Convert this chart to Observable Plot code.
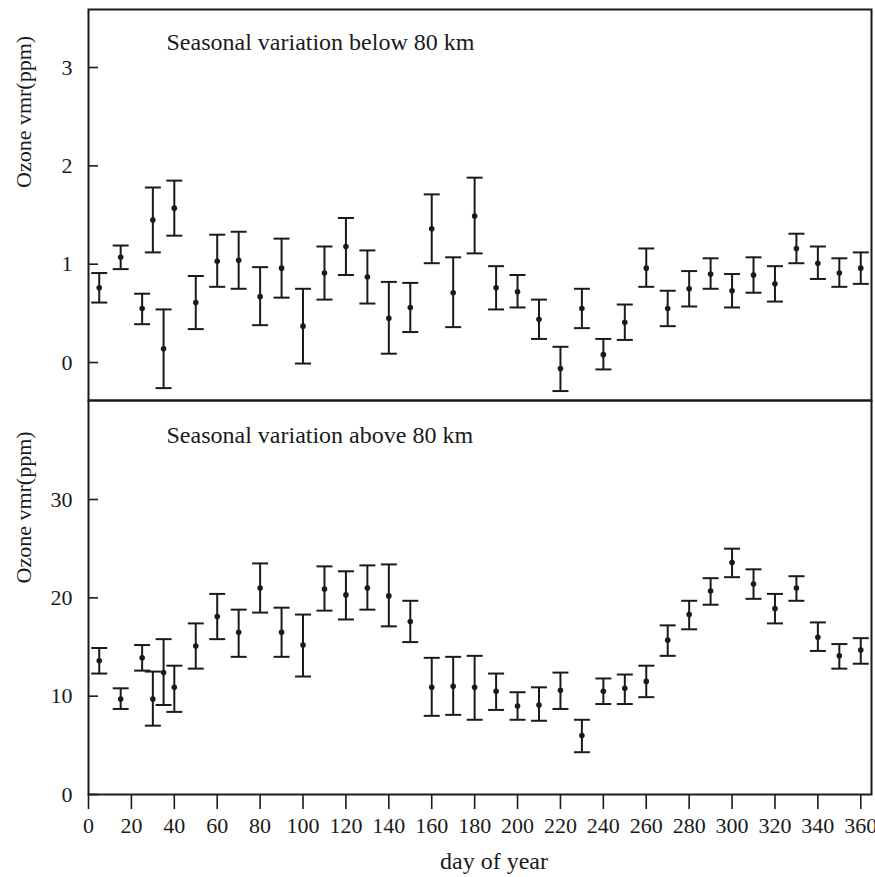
<!DOCTYPE html>
<html>
<head>
<meta charset="utf-8">
<script src="https://cdn.jsdelivr.net/npm/d3@7"></script>
<script src="https://cdn.jsdelivr.net/npm/@observablehq/plot@0.6"></script>
<style>
  html, body { margin: 0; padding: 0; background: white; }
  #chart { width: 875px; }
  #chart svg { display: block; }
</style>
</head>
<body>
<div id="chart"></div>
<script>
// ---- data ----
const days = [5,15,25,30,35,40,50,60,70,80,90,100,110,120,130,140,150,160,170,180,190,200,210,220,230,240,250,260,270,280,290,300,310,320,330,340,350,360];

const belowMean = [0.76,1.07,0.55,1.45,0.14,1.57,0.61,1.03,1.04,0.67,0.96,0.37,0.91,1.18,0.87,0.45,0.56,1.36,0.71,1.49,0.76,0.72,0.44,-0.06,0.55,0.08,0.41,0.96,0.55,0.75,0.90,0.73,0.89,0.80,1.16,1.01,0.91,0.96];
const belowLow  = [0.61,0.95,0.39,1.12,-0.26,1.29,0.34,0.77,0.75,0.38,0.66,-0.01,0.64,0.89,0.60,0.09,0.31,1.01,0.36,1.11,0.54,0.56,0.24,-0.29,0.35,-0.07,0.23,0.77,0.37,0.57,0.75,0.56,0.71,0.62,1.01,0.85,0.77,0.80];
const belowHigh = [0.91,1.19,0.70,1.78,0.54,1.85,0.88,1.30,1.33,0.97,1.26,0.75,1.18,1.47,1.14,0.82,0.81,1.71,1.07,1.88,0.98,0.89,0.64,0.16,0.75,0.24,0.59,1.16,0.73,0.93,1.06,0.90,1.07,0.98,1.31,1.18,1.06,1.12];

const aboveMean = [13.6,9.7,13.9,9.7,12.4,10.9,15.1,18.1,16.5,21.0,16.5,15.2,20.9,20.3,21.0,20.2,17.6,10.9,11.0,10.9,10.5,9.0,9.1,10.6,6.0,10.5,10.8,11.5,15.7,18.3,20.7,23.6,21.4,18.9,21.0,16.0,14.1,14.7];
const aboveLow  = [12.3,8.7,12.6,7.0,9.1,8.4,12.8,15.8,14.0,18.5,14.0,12.0,18.7,17.8,18.8,17.1,15.5,8.0,8.1,7.6,8.6,7.6,7.5,8.7,4.3,9.2,9.2,9.9,14.1,16.8,19.3,22.1,19.9,17.4,19.7,14.6,12.8,13.3];
const aboveHigh = [14.9,10.8,15.2,12.5,15.8,13.1,17.4,20.4,18.8,23.5,19.0,18.3,23.2,22.7,23.3,23.4,19.7,13.9,14.0,14.1,12.3,10.4,10.9,12.4,7.6,11.8,12.2,13.1,17.2,19.7,22.0,25.0,22.9,20.4,22.2,17.5,15.3,15.9];

const xTicks = [0,20,40,60,80,100,120,140,160,180,200,220,240,260,280,300,320,340,360];
const yTicksBelow = [0,1,2,3];
const yTicksAbove = [0,10,20,30];

const titleBelow = "Seasonal variation below 80 km";
const titleAbove = "Seasonal variation above 80 km";
const yLabel = "Ozone vmr(ppm)";
const xLabel = "day of year";

// ---- build tables ----
const rowsBelow = days.map((d, i) => ({day: d, mean: belowMean[i], low: belowLow[i], high: belowHigh[i]}));
const rowsAbove = days.map((d, i) => ({day: d, mean: aboveMean[i], low: aboveLow[i], high: aboveHigh[i]}));

const ink = "#1a1a1a";
const font = "'Liberation Serif', 'Times New Roman', serif";
const fmt = d => String(d);

const W = 875, ML = 88, MR = 4;
const innerTickLen = 10;

// horizontal cap symbol for error bars
const capSymbol = {
  draw(context, size) {
    const h = Math.sqrt(size / Math.PI);
    context.moveTo(-h, 0);
    context.lineTo(h, 0);
  }
};

function errMarks(rows) {
  return [
    Plot.ruleX(rows, {x: "day", y1: "low", y2: "high", stroke: ink, strokeWidth: 2}),
    Plot.dot(rows, {x: "day", y: "low", symbol: capSymbol, r: 8, stroke: ink, strokeWidth: 2, fill: "none"}),
    Plot.dot(rows, {x: "day", y: "high", symbol: capSymbol, r: 8, stroke: ink, strokeWidth: 2, fill: "none"}),
    Plot.dot(rows, {x: "day", y: "mean", r: 2.8, fill: ink, stroke: "none"})
  ];
}

// y axis: labels outside, short ticks pointing inward
function yAxisMarks(ticks) {
  return [
    Plot.axisY({ticks, tickFormat: fmt, tickSize: 0, tickPadding: 16, label: null, fontSize: 22}),
    Plot.tickY(ticks, {y: d => d, stroke: ink, strokeWidth: 1.6, insetRight: (W - ML - MR) - innerTickLen})
  ];
}

const common = {
  width: W,
  marginLeft: ML,
  marginRight: MR,
  style: {fontFamily: font, fontSize: "22px", color: ink, background: "white", overflow: "visible"}
};

const plotBelow = Plot.plot({
  ...common,
  height: 400,
  marginTop: 9,
  marginBottom: 0,
  x: {domain: [0, 365], axis: null},
  y: {domain: [-0.386, 3.59]},
  marks: [
    ...yAxisMarks(yTicksBelow),
    ...errMarks(rowsBelow),
    Plot.text([titleBelow], {text: d => d, frameAnchor: "top-left", textAnchor: "start", lineAnchor: "top", dx: 78, dy: 23, fontSize: 24, fill: ink}),
    Plot.text([yLabel], {text: d => d, frameAnchor: "left", rotate: -90, dx: -65, dy: -17, fontSize: 22, fill: ink}),
    Plot.frame({stroke: ink, strokeWidth: 2})
  ]
});

const plotAbove = Plot.plot({
  ...common,
  height: 477,
  marginTop: 0,
  marginBottom: 83,
  x: {domain: [0, 365]},
  y: {domain: [0, 40.07]},
  marks: [
    Plot.axisX({ticks: xTicks, tickFormat: fmt, tickSize: 15, tickPadding: 8, label: null, fontSize: 22, strokeWidth: 1.6}),
    ...yAxisMarks(yTicksAbove),
    ...errMarks(rowsAbove),
    Plot.text([titleAbove], {text: d => d, frameAnchor: "top-left", textAnchor: "start", lineAnchor: "top", dx: 78, dy: 25, fontSize: 24, fill: ink}),
    Plot.text([yLabel], {text: d => d, frameAnchor: "left", rotate: -90, dx: -65, dy: -14, fontSize: 22, fill: ink}),
    Plot.text([xLabel], {text: d => d, frameAnchor: "bottom", lineAnchor: "middle", dx: 14, dy: 67, fontSize: 24, fill: ink}),
    Plot.frame({stroke: ink, strokeWidth: 2})
  ]
});

const chart = document.getElementById("chart");
chart.appendChild(plotBelow);
chart.appendChild(plotAbove);
</script>
</body>
</html>
